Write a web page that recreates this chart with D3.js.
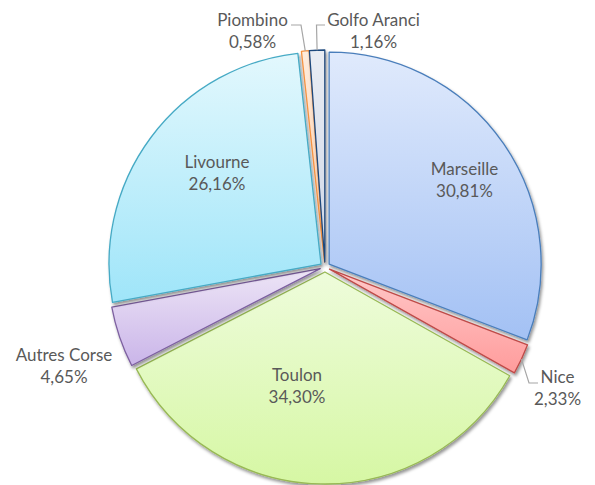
<!DOCTYPE html>
<html>
<head>
<meta charset="utf-8">
<script src="https://cdn.jsdelivr.net/npm/d3@7"></script>
<style>
  html, body { margin: 0; padding: 0; background: #fff; }
  svg { display: block; }
  text { font-family: Lato, "Open Sans", sans-serif; fill: #595959; }
</style>
</head>
<body>
<div id="chart"></div>
<script>
// ---- data ----
const categories = ["Marseille", "Nice", "Toulon", "Autres Corse", "Livourne", "Piombino", "Golfo Aranci"];
const values = [30.81, 2.33, 34.30, 4.65, 26.16, 0.58, 1.16];

// ---- styles ----
const strokeColors = ["#4a7ebb", "#be4b48", "#98b954", "#7d60a0", "#46aac5", "#f69240", "#1f497d"];
const gradTop =    ["#e0eafc", "#ffc9c9", "#eefcdb", "#ede5f6", "#e3f8fd", "#feecdd", "#e9edf4"];
const gradBottom = ["#a3c1f4", "#ff9c9c", "#d6f7a4", "#cab5e9", "#9fe5f9", "#fdc9a0", "#cdd6e6"];

const W = 595, H = 485;
const cx = 325, cy = 267, R = 212, explode = 5;

const svg = d3.select("#chart").append("svg").attr("width", W).attr("height", H);
const defs = svg.append("defs");

const f = defs.append("filter").attr("id", "shadow")
  .attr("x", "-20%").attr("y", "-20%").attr("width", "140%").attr("height", "140%");
f.append("feDropShadow").attr("dx", 1.5).attr("dy", 2.5).attr("stdDeviation", 1.8)
  .attr("flood-color", "#000").attr("flood-opacity", 0.42);

categories.forEach((c, i) => {
  const g = defs.append("linearGradient").attr("id", "grad" + i)
    .attr("x1", 0).attr("y1", 0).attr("x2", 0).attr("y2", 1);
  g.append("stop").attr("offset", "0%").attr("stop-color", gradTop[i]);
  g.append("stop").attr("offset", "100%").attr("stop-color", gradBottom[i]);
});

const data = categories.map((c, i) => ({ name: c, value: values[i], i }));
const pie = d3.pie().value(d => d.value).sort(null).startAngle(0).endAngle(2 * Math.PI);
const arcs = pie(data);
const arc = d3.arc().innerRadius(0).outerRadius(R);

const root = svg.append("g").attr("transform", `translate(${cx},${cy})`);

function offsetOf(a) {
  const m = (a.startAngle + a.endAngle) / 2;
  return [explode * Math.sin(m), -explode * Math.cos(m)];
}

root.selectAll("path.slice").data(arcs).join("path")
  .attr("class", "slice")
  .attr("transform", d => { const o = offsetOf(d); return `translate(${o[0]},${o[1]})`; })
  .attr("d", arc)
  .attr("fill", d => `url(#grad${d.data.i})`)
  .attr("stroke", d => strokeColors[d.data.i])
  .attr("stroke-width", 1.3)
  .attr("stroke-linejoin", "round")
  .attr("filter", "url(#shadow)");

// ---- labels ----
const fmt = v => v.toFixed(2).replace(".", ",") + "%";
// label placement (absolute centre x, first baseline y) relative to chart
const labelPos = {
  "Marseille":    [464.5, 175],
  "Nice":         [557.5, 383],
  "Toulon":       [297, 381],
  "Autres Corse": [64, 361],
  "Livourne":     [217, 168],
  "Piombino":     [252.5, 26],
  "Golfo Aranci": [373.5, 26]
};
const lineGap = 22;

const labels = svg.append("g");
arcs.forEach(a => {
  const p = labelPos[a.data.name];
  const t = labels.append("text").attr("text-anchor", "middle").attr("font-size", 17);
  t.append("tspan").attr("x", p[0]).attr("y", p[1]).text(a.data.name);
  t.append("tspan").attr("x", p[0]).attr("y", p[1] + lineGap).text(fmt(a.data.value));
});

// ---- leader lines ----
function anchorPoint(a) {
  const m = (a.startAngle + a.endAngle) / 2;
  const o = offsetOf(a);
  return [cx + o[0] + R * Math.sin(m), cy + o[1] - R * Math.cos(m)];
}
const leaders = {
  "Piombino":     (p) => [[p[0] + 38.5, 25], [p[0] + 48.5, 25]],
  "Golfo Aranci": (p) => [[p[0] - 48.5, 25], [p[0] - 57, 25]],
  "Nice":         (p) => [[p[0] - 19.5, 383], [p[0] - 28.5, 383]]
};
arcs.forEach(a => {
  const fn = leaders[a.data.name];
  if (!fn) return;
  const p = labelPos[a.data.name];
  const pts = fn(p);
  const anc = anchorPoint(a);
  const line = [pts[0], pts[1], anc];
  svg.append("path")
    .attr("d", d3.line()(line))
    .attr("fill", "none")
    .attr("stroke", "#a6a6a6")
    .attr("stroke-width", 1.2);
});
</script>
</body>
</html>
